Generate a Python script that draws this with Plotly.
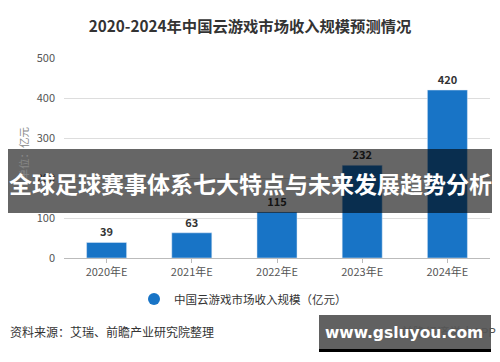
import plotly.graph_objects as go

categories = ["2020年E", "2021年E", "2022年E", "2023年E", "2024年E"]
values = [39, 63, 115, 232, 420]
y_ticks = [0, 100, 200, 300, 400, 500]
series_name = "中国云游戏市场收入规模（亿元）"
title_text = "2020-2024年中国云游戏市场收入规模预测情况"
y_title = "单位：亿元"
source_text = "资料来源：艾瑞、前瞻产业研究院整理"
credit_text = "@前瞻经济学人APP"
banner_text = "全球足球赛事体系七大特点与未来发展趋势分析"
watermark_text = "www.gsluyou.com"

FONT = "Noto Sans CJK SC"
BLUE = "#1874C6"

L, R, T, B = 64, 490, 58, 258


def px(x):
    return (x - L) / (R - L)


def py(y):
    return (B - y) / (B - T)


fig = go.Figure()
fig.add_trace(go.Bar(
    x=categories, y=values, marker_color=BLUE, width=0.47,
    text=[str(v) for v in values], textposition="outside",
    textfont=dict(family=FONT, size=11, color="#333333", weight="bold"),
    cliponaxis=False, showlegend=False,
))
fig.add_trace(go.Scatter(
    x=[None], y=[None], mode="markers", name=series_name,
    marker=dict(symbol="circle", size=10, color=BLUE),
))

fig.update_layout(
    width=500, height=362,
    margin=dict(l=L, r=500 - R, t=T, b=362 - B, autoexpand=False),
    paper_bgcolor="white", plot_bgcolor="white",
    font=dict(family=FONT, color="#555555", size=11),
    title=dict(text=title_text, x=0.5, xref="container", xanchor="center",
               y=1 - 27 / 362, yref="container", yanchor="middle",
               font=dict(family=FONT, size=15.3, color="#333333", weight="bold")),
    xaxis=dict(showgrid=False, showline=True, linecolor="#bbbbbb", linewidth=1,
               ticks="outside", ticklen=4, tickcolor="#bbbbbb", automargin=False,
               tickfont=dict(family=FONT, size=11, color="#555555")),
    yaxis=dict(range=[0, 500], tickvals=y_ticks, showgrid=True, gridcolor="#dddddd",
               zeroline=False, showline=False, ticks="", ticklabelstandoff=8, automargin=False,
               tickfont=dict(family=FONT, size=11, color="#555555")),
    showlegend=True,
    legend=dict(orientation="h", x=0.486, xanchor="center", xref="container",
                y=1 - 299 / 362, yanchor="middle", yref="container",
                font=dict(family=FONT, size=11.5, color="#333333"),
                itemsizing="constant", itemwidth=30),
)

# y-axis title
fig.add_annotation(text=y_title, x=px(13), y=py(153), xref="paper", yref="paper",
                   showarrow=False, textangle=-90,
                   font=dict(family=FONT, size=10.5, color="#888888"))

# source and credit
fig.add_annotation(text=source_text, x=px(8), y=py(331), xref="paper", yref="paper",
                   xanchor="left", yanchor="middle", showarrow=False,
                   font=dict(family=FONT, size=12, color="#333333"))
fig.add_annotation(text=credit_text, x=px(498), y=py(331), xref="paper", yref="paper",
                   xanchor="right", yanchor="middle", showarrow=False,
                   font=dict(family=FONT, size=12, color="#555555"))

# overlay banner
fig.add_shape(type="rect", xref="paper", yref="paper",
              x0=px(8), x1=px(492), y0=py(213), y1=py(149),
              fillcolor="rgba(0,0,0,0.6)", line_width=0, layer="above")
fig.add_annotation(text=banner_text, x=px(250), y=py(183), xref="paper", yref="paper",
                   xanchor="center", yanchor="middle", showarrow=False,
                   font=dict(family=FONT, size=23, color="white", weight="bold"))

# watermark box
fig.add_shape(type="rect", xref="paper", yref="paper",
              x0=px(319), x1=px(491), y0=py(349), y1=py(315),
              fillcolor="rgba(0,0,0,0.62)", line_width=0, layer="above")
fig.add_shape(type="rect", xref="paper", yref="paper",
              x0=px(319), x1=px(491), y0=py(352), y1=py(349),
              fillcolor="black", line_width=0, layer="above")
fig.add_annotation(text=watermark_text, x=px(404), y=py(333), xref="paper", yref="paper",
                   xanchor="center", yanchor="middle", showarrow=False,
                   font=dict(family="DejaVu Sans", size=15.5, color="white", weight="bold"))

fig.write_html("out.html", config={"displayModeBar": False},
               post_script="document.body.style.margin='0';document.body.style.overflow='hidden';")
